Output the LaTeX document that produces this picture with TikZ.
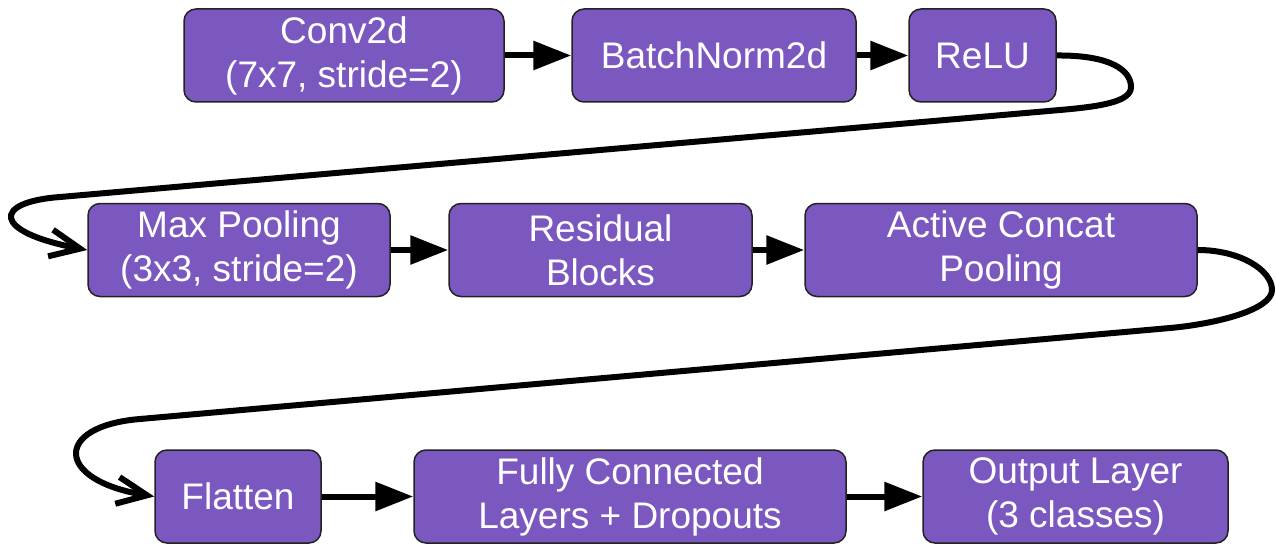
\documentclass[tikz,border=0pt]{standalone}
\usepackage{fontspec}
\setmainfont{Liberation Sans}
\definecolor{layerpurple}{RGB}{123, 88, 192}
\definecolor{edgegray}{RGB}{34, 34, 34}
\usetikzlibrary{arrows.meta, positioning}

\begin{document}
\begin{tikzpicture}[x=1pt, y=-1pt,
    layer/.style={draw=edgegray, line width=1.5pt, fill=layerpurple,
        rounded corners=12pt, text=white, align=center, inner sep=0pt,
        minimum height=93pt, font=\fontsize{37}{44}\selectfont},
    flow/.style={-{Triangle[length=38pt, width=28pt]}, line width=6pt},
    wrap/.style={-{Straight Barb[length=30pt, width=27pt, line width=6pt]}, line width=6pt}]
    \useasboundingbox (0,0) rectangle (1276,548);

    % Stem
    \node[layer, minimum width=320pt] (conv) at (344,55.5) {Conv2d\\(7x7, stride=2)};
    \node[layer, minimum width=284pt] (bnorm) at (714,55.5) {BatchNorm2d};
    \node[layer, minimum width=147pt] (relu) at (982.5,55.5) {ReLU};

    % Body
    \node[layer, minimum width=302pt] (maxpool) at (239,250) {Max Pooling\\(3x3, stride=2)};
    \node[layer, minimum width=303pt] (resblocks) at (600.5,250) {Residual\\Blocks};
    \node[layer, minimum width=392pt] (concat) at (1001,250) {Active Concat\\Pooling};

    % Head
    \node[layer, minimum width=166pt] (flatten) at (238,496.5) {Flatten};
    \node[layer, minimum width=432pt] (fclayers) at (630,496.5) {Fully Connected\\Layers + Dropouts};
    \node[layer, minimum width=305pt] (outlayer) at (1075.5,496.5) {Output Layer\\(3 classes)};

    % Connections
    \draw[flow] (conv.east) -- (bnorm.west);
    \draw[flow] (bnorm.east) -- (relu.west);
    \draw[flow] (maxpool.east) -- (resblocks.west);
    \draw[flow] (resblocks.east) -- (concat.west);
    \draw[flow] (flatten.east) -- (fclayers.west);
    \draw[flow] (fclayers.east) -- (outlayer.west);

    % Row changes
    \draw[wrap] (relu.east) .. controls (1110,55) and (1131,70) .. (1131,87)
        .. controls (1131,102) and (1100,106.5) .. (1060,110)
        -- (60,197)
        .. controls (-8,202) and (-8,232) .. (maxpool.west);
    \draw[wrap] (concat.east) .. controls (1240,250) and (1272,270) .. (1272,290)
        .. controls (1272,310) and (1215,324) .. (1170,328)
        -- (140,419)
        .. controls (54,426) and (54,480) .. (flatten.west);
\end{tikzpicture}
\end{document}
